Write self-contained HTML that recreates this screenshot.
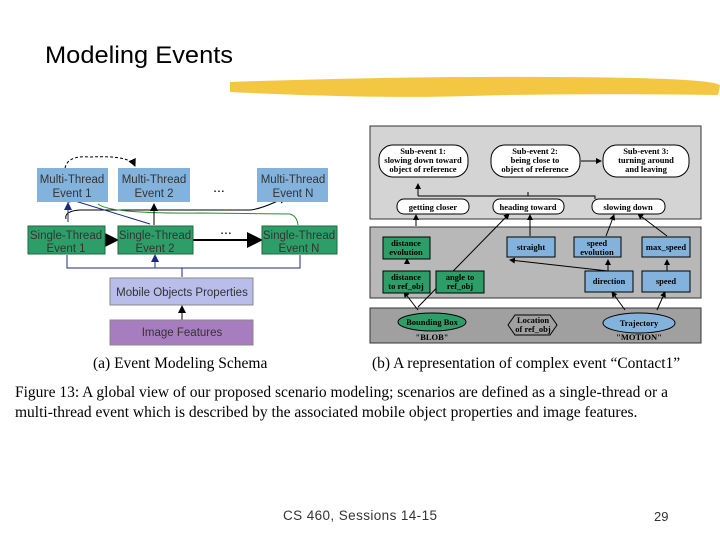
<!DOCTYPE html>
<html><head><style>
body{margin:0;width:720px;height:540px;background:#fff;overflow:hidden;position:relative;font-family:"Liberation Sans",sans-serif}
</style></head><body>
<svg width="720" height="540" style="position:absolute;left:0;top:0" font-family="Liberation Sans, sans-serif">
<defs>
<marker id="a" markerWidth="8" markerHeight="8" refX="7" refY="4" orient="auto"><path d="M0,0 L8,4 L0,8z" fill="#000"/></marker>
<marker id="b" markerWidth="8" markerHeight="8" refX="7" refY="4" orient="auto"><path d="M0,0 L8,4 L0,8z" fill="#1a2a80"/></marker>
<marker id="s" markerWidth="6" markerHeight="6" refX="5" refY="3" orient="auto"><path d="M0,0 L6,3 L0,6z" fill="#000"/></marker>
</defs>
<text x="45" y="63" font-size="24" textLength="188" lengthAdjust="spacingAndGlyphs">Modeling Events</text>
<path d="M230,82 Q400,76 560,77 T720,86 L718,95 Q560,93 470,96 T230,92z" fill="#f2c12e" opacity="0.9"/>
<!-- left diagram -->
<g font-size="11.5" text-anchor="middle">
<path d="M65,168 Q68,155 90,157 Q130,155 135,166" fill="none" stroke="#000" stroke-dasharray="3,2" marker-end="url(#a)"/>
<path d="M66,219 Q64,211 80,210 L250,210 Q262,209 286,197" fill="none" stroke="#000" marker-end="url(#a)"/>
<path d="M75,201 L150,224" stroke="#1a2a80" marker-start="url(#b)"/>
<path d="M98,204 Q110,214 200,213 L290,214 Q297,216 298,225" fill="none" stroke="#2a8a3a"/>
<line x1="154" y1="225" x2="154" y2="204" stroke="#000" marker-end="url(#a)"/>
<line x1="68" y1="222" x2="68" y2="203" stroke="#1a2a80" marker-end="url(#b)"/>
<line x1="106" y1="240" x2="117" y2="240" stroke="#000" stroke-width="2" marker-end="url(#a)"/>
<line x1="193" y1="240" x2="261" y2="240" stroke="#000" stroke-width="2" marker-end="url(#a)"/>
<path d="M182,277 L182,268 L67,268 L67,255 M182,268 L300,268 L300,255 M155,268 L155,255" fill="none" stroke="#1a2a80" marker-end="url(#b)"/>
<line x1="182" y1="320" x2="182" y2="306" stroke="#000" marker-end="url(#a)"/>
<rect x="37" y="168" width="71" height="34" fill="#83b3dc"/>
<text x="72" y="183" fill="#333">Multi-Thread</text><text x="72" y="197" fill="#333">Event 1</text>
<rect x="118" y="168" width="72" height="34" fill="#83b3dc"/>
<text x="154" y="183" fill="#333">Multi-Thread</text><text x="154" y="197" fill="#333">Event 2</text>
<rect x="257" y="168" width="71" height="34" fill="#83b3dc"/>
<text x="293" y="183" fill="#333">Multi-Thread</text><text x="293" y="197" fill="#333">Event N</text>
<text x="219" y="192" font-size="14">...</text>
<text x="226" y="234" font-size="14">...</text>
<rect x="28" y="226" width="77" height="28" fill="#2e9e68" stroke="#1a6a40"/>
<text x="66" y="239" fill="#333">Single-Thread</text><text x="66" y="252" fill="#333">Event 1</text>
<rect x="118" y="226" width="75" height="28" fill="#2e9e68" stroke="#1a6a40"/>
<text x="155" y="239" fill="#333">Single-Thread</text><text x="155" y="252" fill="#333">Event 2</text>
<rect x="262" y="226" width="75" height="28" fill="#2e9e68" stroke="#1a6a40"/>
<text x="299" y="239" fill="#333">Single-Thread</text><text x="299" y="252" fill="#333">Event N</text>
<rect x="110" y="278" width="143" height="27" fill="#b9bde9" stroke="#888"/>
<text x="182" y="296" fill="#333">Mobile Objects Properties</text>
<rect x="110" y="320" width="143" height="25" fill="#a87dc0" stroke="#888"/>
<text x="182" y="336" fill="#333">Image Features</text>
</g>
<!-- right diagram -->
<g font-family="Liberation Serif, serif" font-size="8.5" font-weight="bold" text-anchor="middle">
<rect x="370" y="126" width="331" height="93" fill="#d4d4d4" stroke="#333"/>
<rect x="370" y="227" width="331" height="71" fill="#b8b8b8" stroke="#333"/>
<rect x="370" y="308" width="331" height="35" fill="#a0a0a0" stroke="#333"/>
<path d="M418,189 L418,196 M418,189 L418,188 M418,196 L595,196 L595,199 M528,196 L528,192" fill="none" stroke="#000"/>
<line x1="418" y1="196" x2="418" y2="184" stroke="#000" marker-end="url(#s)"/>
<line x1="416" y1="226" x2="416" y2="215" stroke="#000" marker-end="url(#s)"/>
<line x1="530" y1="236" x2="530" y2="215" stroke="#000" marker-end="url(#s)"/>
<line x1="418" y1="307" x2="509" y2="214" stroke="#000" marker-end="url(#s)"/>
<line x1="606" y1="236" x2="614" y2="215" stroke="#000" marker-end="url(#s)"/>
<line x1="667" y1="236" x2="638" y2="214" stroke="#000" marker-end="url(#s)"/>
<line x1="407" y1="264" x2="407" y2="259" stroke="#000" marker-end="url(#s)"/>
<line x1="667" y1="272" x2="667" y2="260" stroke="#000" marker-end="url(#s)"/>
<line x1="608" y1="271" x2="510" y2="260" stroke="#000" marker-end="url(#s)"/>
<line x1="608" y1="271" x2="608" y2="260" stroke="#000" marker-end="url(#s)"/>
<line x1="418" y1="310" x2="404" y2="292" stroke="#000" marker-end="url(#s)"/>
<line x1="625" y1="310" x2="612" y2="292" stroke="#000" marker-end="url(#s)"/>
<line x1="657" y1="310" x2="665" y2="292" stroke="#000" marker-end="url(#s)"/>
<line x1="581" y1="161" x2="601" y2="161" stroke="#000" marker-end="url(#s)"/>
<rect x="379" y="145" width="89" height="32" rx="14" fill="#fff" stroke="#000"/>
<text x="423" y="154">Sub-event 1:</text><text x="423" y="163">slowing down toward</text><text x="423" y="172">object of reference</text>
<rect x="491" y="145" width="89" height="32" rx="14" fill="#fff" stroke="#000"/>
<text x="535" y="154">Sub-event 2:</text><text x="535" y="163">being close to</text><text x="535" y="172">object of reference</text>
<rect x="603" y="145" width="86" height="32" rx="14" fill="#fff" stroke="#000"/>
<text x="646" y="154">Sub-event 3:</text><text x="646" y="163">turning around</text><text x="646" y="172">and leaving</text>
<rect x="397" y="199" width="72" height="15" rx="7" fill="#fff" stroke="#000"/><text x="433" y="210">getting closer</text>
<rect x="493" y="199" width="71" height="15" rx="7" fill="#fff" stroke="#000"/><text x="528" y="210">heading toward</text>
<rect x="592" y="199" width="73" height="15" rx="7" fill="#fff" stroke="#000"/><text x="628" y="210">slowing down</text>
<rect x="383" y="237" width="47" height="22" fill="#2e9e68" stroke="#000"/><text x="406" y="246">distance</text><text x="406" y="255">evolution</text>
<rect x="383" y="271" width="47" height="22" fill="#2e9e68" stroke="#000"/><text x="406" y="280">distance</text><text x="406" y="289">to ref_obj</text>
<rect x="436" y="271" width="48" height="22" fill="#2e9e68" stroke="#000"/><text x="460" y="280">angle to</text><text x="460" y="289">ref_obj</text>
<rect x="507" y="237" width="48" height="20" fill="#83b3dc" stroke="#000"/><text x="531" y="250">straight</text>
<rect x="574" y="237" width="47" height="20" fill="#83b3dc" stroke="#000"/><text x="597" y="246">speed</text><text x="597" y="255">evolution</text>
<rect x="642" y="237" width="48" height="20" fill="#83b3dc" stroke="#000"/><text x="666" y="250">max_speed</text>
<rect x="585" y="271" width="48" height="21" fill="#83b3dc" stroke="#000"/><text x="609" y="284">direction</text>
<rect x="642" y="271" width="48" height="21" fill="#83b3dc" stroke="#000"/><text x="666" y="284">speed</text>
<ellipse cx="432" cy="322" rx="34" ry="9" fill="#2e9e68" stroke="#000"/><text x="432" y="325">Bounding Box</text>
<text x="432" y="340">"BLOB"</text>
<path d="M508,325 L515,315 L550,315 L557,325 L550,335 L515,335z" fill="none" stroke="#000"/><text x="533" y="323">Location</text><text x="533" y="332">of ref_obj</text>
<ellipse cx="639" cy="323" rx="36" ry="10" fill="#83b3dc" stroke="#000"/><text x="639" y="326">Trajectory</text>
<text x="639" y="340">"MOTION"</text>
</g>
<g font-family="Liberation Serif, serif" font-size="15.5">
<text x="93" y="368">(a) Event Modeling Schema</text>
<text x="372" y="368">(b) A representation of complex event “Contact1”</text>
<text x="15" y="397">Figure 13: A global view of our proposed scenario modeling; scenarios are defined as a single-thread or a</text>
<text x="15" y="417">multi-thread event which is described by the associated mobile object properties and image features.</text>
</g>
<text x="283" y="520" font-size="13.5" fill="#333" textLength="154" lengthAdjust="spacing">CS 460,  Sessions 14-15</text>
<text x="654" y="521" font-size="13" fill="#333">29</text>
</svg>
</body></html>
